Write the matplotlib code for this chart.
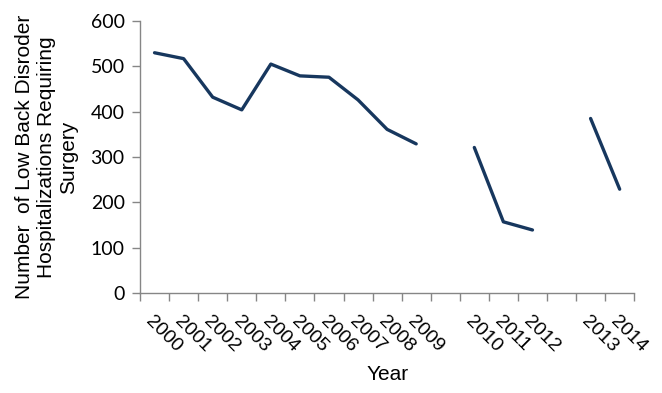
import matplotlib
matplotlib.use("Agg")
import matplotlib.pyplot as plt
import numpy as np

# categories: empty slots are blank columns in the original sheet
years = ["2000", "2001", "2002", "2003", "2004", "2005", "2006", "2007",
         "2008", "2009", "", "2010", "2011", "2012", "", "2013", "2014"]
counts = [530, 517, 432, 404, 505, 479, 476, 426,
          361, 329, np.nan, 321, 157, 139, np.nan, 385, 229]
yticks = [0, 100, 200, 300, 400, 500, 600]

fig = plt.figure(figsize=(6.62, 3.93), dpi=100)
ax = fig.add_axes([0.2115, 0.2545, 0.7465, 0.692])

x = np.arange(len(years))
ax.plot(x, counts, color="#17375E", lw=2.4, solid_capstyle="round",
        solid_joinstyle="round")

ax.set_xlim(-0.5, len(years) - 0.5)
ax.set_ylim(0, 600)

grey = "#868686"
for s in ["top", "right"]:
    ax.spines[s].set_visible(False)
for s in ["left", "bottom"]:
    ax.spines[s].set_color(grey)
    ax.spines[s].set_linewidth(1)

# boundary ticks between categories, labels at category centres
ax.set_xticks(np.arange(-0.5, len(years)), minor=False)
ax.set_xticklabels([])
ax.set_xticks(x, minor=True)
ax.set_xticklabels(years, minor=True, rotation=-45, ha="left", va="top",
                   rotation_mode="anchor", fontsize=14,
                   family="Liberation Sans")
ax.tick_params(axis="x", which="major", length=6, color=grey, width=1)
ax.tick_params(axis="x", which="minor", length=0, pad=14)

ax.set_yticks(yticks)
ax.set_yticklabels([str(v) for v in yticks], fontsize=14, family="Lato")
ax.tick_params(axis="y", length=6, color=grey, width=1, pad=5)

ax.set_ylabel("Number  of Low Back Disroder\nHospitalizations Requiring\nSurgery",
              fontsize=15, family="Liberation Sans", linespacing=1.2,
              labelpad=9)
ax.set_xlabel("Year", fontsize=15, family="Liberation Sans", labelpad=7)

fig.savefig("out.png", dpi=100)
